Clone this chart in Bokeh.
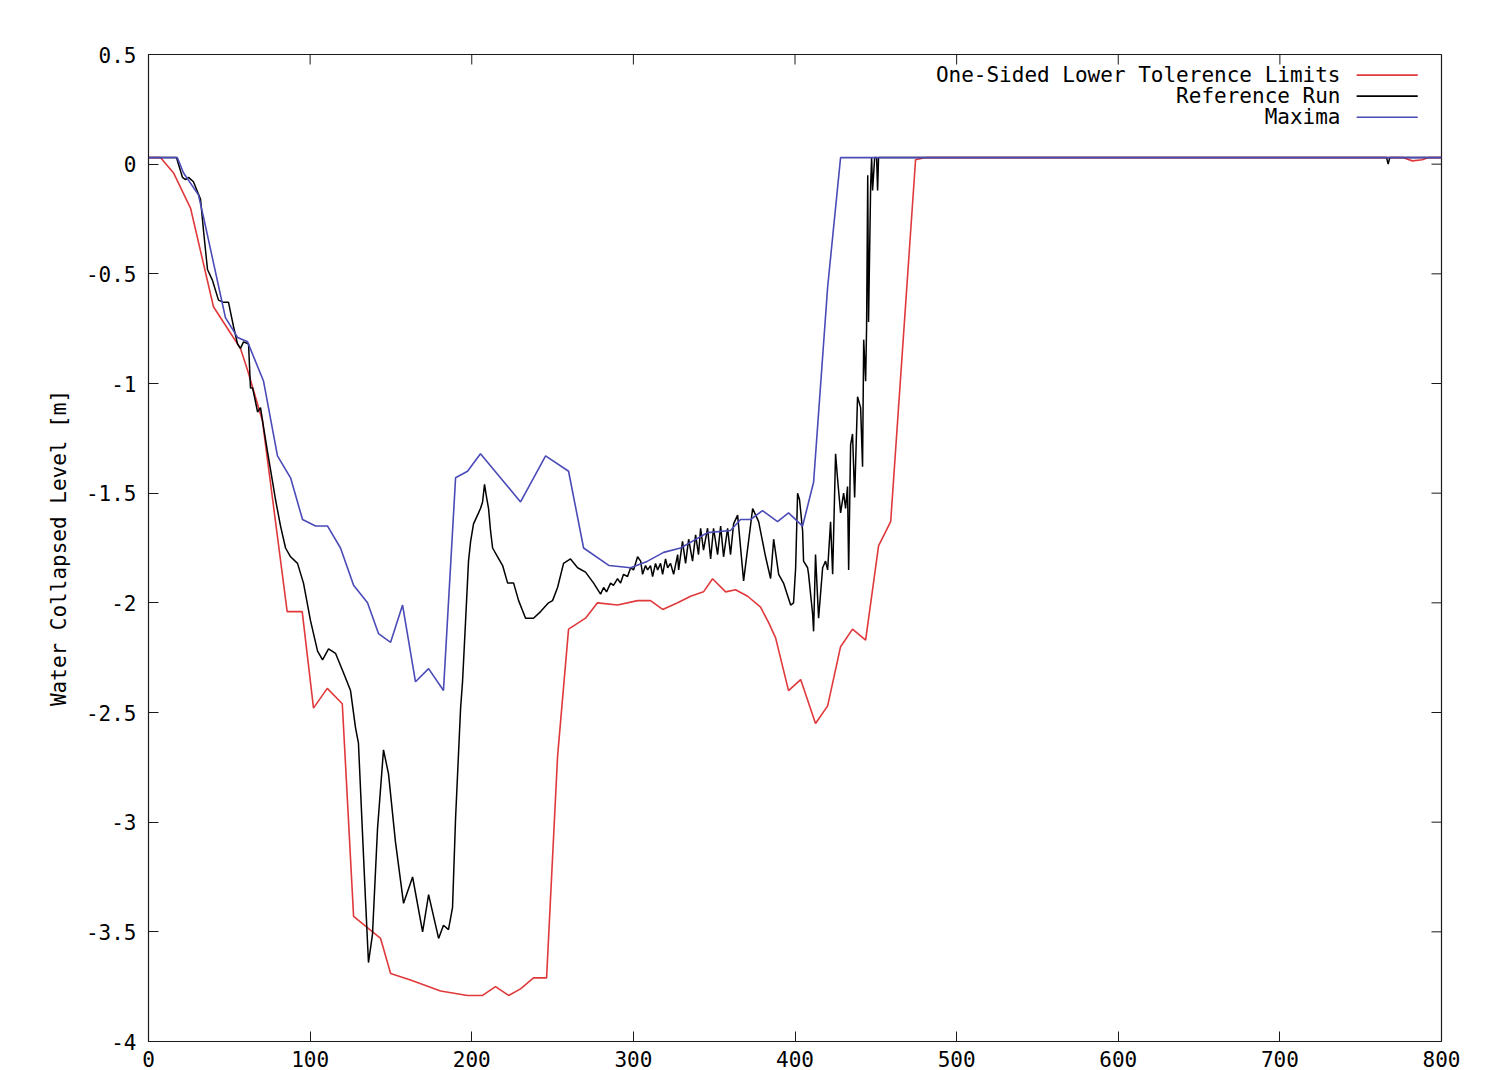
from bokeh.plotting import figure
from bokeh.models import Range1d, FixedTicker
from bokeh.core.properties import value
from bokeh.embed import file_html
from bokeh.resources import INLINE

# ---- series: time [s] vs. water collapsed level [m] ----
series_names = ["One-Sided Lower Tolerence Limits", "Reference Run", "Maxima"]

tol_t = [0, 7.4, 15.5, 26.0, 40.2, 50.7, 56.9, 61.3, 70.5, 85.8,
         95.1, 102.1, 110.6, 119.9, 126.9, 143.6, 149.8, 162.1, 180.7, 197.4,
         206.7, 214.7, 222.8, 230.2, 238.2, 246.3, 253.1, 259.9, 270.4, 277.8,
         290.2, 302.6, 310.6, 318.1, 327.4, 335.4, 343.4, 349.0, 357.1, 363.2,
         370.7, 378.7, 383.7, 388.0, 396.0, 403.5, 412.7, 420.2, 428.2, 435.6,
         443.7, 451.7, 459.2, 474.6, 480.8, 776.0, 782.0, 788.0, 792.0, 800.0]
tol_level = [0.03, 0.03, -0.04, -0.20, -0.65, -0.77, -0.84, -0.94, -1.17, -2.04,
             -2.04, -2.48, -2.39, -2.46, -3.43, -3.53, -3.69, -3.72, -3.77, -3.79,
             -3.79, -3.75, -3.79, -3.76, -3.71, -3.71, -2.70, -2.12, -2.07, -2.00,
             -2.01, -1.99, -1.99, -2.03, -2.00, -1.97, -1.95, -1.89, -1.95, -1.94,
             -1.97, -2.02, -2.09, -2.16, -2.40, -2.35, -2.55, -2.47, -2.20, -2.12,
             -2.17, -1.74, -1.63, 0.02, 0.03, 0.03, 0.015, 0.02, 0.03, 0.03]

ref_t = [0, 17.3, 21.0, 22.9, 24.8, 27.8, 32.2, 34.0, 36.5, 39.6,
         43.3, 46.4, 49.5, 52.6, 55.1, 56.9, 58.8, 61.9, 63.1, 64.4,
         67.5, 69.3, 71.2, 73.6, 78.6, 81.7, 84.8, 87.9, 92.2, 95.9,
         100.2, 104.6, 107.7, 111.4, 115.7, 120.7, 125.0, 128.1, 129.9, 132.4,
         134.3, 136.1, 138.6, 141.7, 145.4, 148.5, 152.8, 157.8, 163.4, 169.6,
         173.3, 179.5, 182.5, 185.6, 188.1, 190.0, 193.1, 194.3, 196.2, 198.0,
         199.3, 201.1, 204.2, 205.4, 206.7, 207.9, 209.2, 210.4, 211.6, 212.9,
         216.0, 219.1, 222.2, 225.9, 229.0, 233.3, 238.2, 242.6, 247.5, 250.0,
         253.1, 256.8, 261.1, 265.5, 270.4, 275.4, 279.7, 281.6, 283.4, 285.9,
         287.7, 290.2, 292.1, 293.9, 296.4, 298.3, 300.1, 302.6, 304.5, 305.7,
         307.5, 308.8, 310.6, 311.9, 313.7, 315.0, 316.8, 318.1, 319.9, 321.2,
         323.0, 324.9, 327.4, 328.0, 330.4, 332.3, 334.2, 336.6, 338.5, 340.3,
         341.6, 343.4, 345.9, 347.8, 349.6, 352.1, 354.0, 355.8, 358.3, 360.1,
         362.0, 364.5, 368.2, 373.8, 377.5, 381.8, 384.9, 386.8, 389.9, 392.9,
         397.3, 399.1, 400.4, 401.6, 402.8, 404.7, 405.3, 407.8, 408.4, 410.9,
         411.5, 412.7, 414.6, 417.1, 418.9, 420.2, 422.0, 423.3, 425.1, 426.4,
         428.2, 430.1, 431.3, 432.5, 433.2, 434.4, 435.6, 436.9, 438.7, 440.6,
         441.8, 442.5, 443.7, 444.3, 445.0, 445.5, 446.8, 447.4, 448.0, 449.3,
         450.5, 451.1, 451.7, 453.0, 766.0, 767.0, 768.0, 800.0]
ref_level = [0.03, 0.03, -0.06, -0.07, -0.06, -0.08, -0.16, -0.30, -0.48, -0.53,
             -0.62, -0.63, -0.63, -0.74, -0.82, -0.84, -0.81, -0.82, -1.02, -1.02,
             -1.13, -1.11, -1.20, -1.31, -1.53, -1.65, -1.75, -1.79, -1.82, -1.91,
             -2.08, -2.22, -2.26, -2.21, -2.23, -2.32, -2.40, -2.57, -2.64, -3.05,
             -3.36, -3.64, -3.51, -3.03, -2.67, -2.78, -3.09, -3.37, -3.25, -3.50,
             -3.33, -3.53, -3.47, -3.49, -3.39, -2.98, -2.48, -2.36, -2.08, -1.81,
             -1.72, -1.64, -1.59, -1.57, -1.54, -1.46, -1.52, -1.57, -1.67, -1.75,
             -1.79, -1.83, -1.91, -1.91, -1.99, -2.07, -2.07, -2.04, -2.00, -1.99,
             -1.93, -1.82, -1.80, -1.84, -1.86, -1.91, -1.96, -1.93, -1.95, -1.91,
             -1.92, -1.89, -1.91, -1.87, -1.88, -1.84, -1.85, -1.79, -1.81, -1.87,
             -1.83, -1.85, -1.83, -1.88, -1.82, -1.85, -1.82, -1.87, -1.80, -1.84,
             -1.82, -1.87, -1.78, -1.85, -1.72, -1.82, -1.71, -1.81, -1.69, -1.78,
             -1.66, -1.76, -1.66, -1.80, -1.66, -1.78, -1.65, -1.79, -1.66, -1.78,
             -1.64, -1.60, -1.90, -1.57, -1.63, -1.79, -1.89, -1.71, -1.87, -1.91,
             -2.01, -2.00, -1.84, -1.50, -1.53, -1.67, -1.81, -1.84, -1.87, -2.05,
             -2.13, -1.78, -2.07, -1.84, -1.81, -1.85, -1.63, -1.87, -1.32, -1.44,
             -1.59, -1.50, -1.57, -1.47, -1.85, -1.28, -1.23, -1.52, -1.06, -1.11,
             -1.38, -0.80, -0.99, -0.74, -0.05, -0.72, -0.10, 0.03, -0.12, 0.03,
             0.03, -0.12, 0.03, 0.03, 0.03, 0.00, 0.03, 0.03]

max_t = [0, 17.8, 21.7, 30.9, 34.0, 47.6, 55.1, 61.3, 71.2, 79.8,
         87.9, 95.3, 103.3, 110.8, 118.8, 126.9, 135.5, 142.3, 149.8, 157.2,
         165.2, 173.3, 182.5, 190.0, 197.4, 205.4, 230.2, 245.7, 259.9, 269.2,
         285.0, 298.3, 308.8, 318.7, 329.2, 345.9, 360.1, 366.3, 372.5, 379.9,
         389.2, 396.0, 404.7, 411.5, 420.2, 428.2, 800.0]
max_level = [0.03, 0.03, -0.04, -0.14, -0.24, -0.70, -0.79, -0.81, -0.99, -1.33,
             -1.43, -1.62, -1.65, -1.65, -1.75, -1.92, -2.00, -2.14, -2.18, -2.01,
             -2.36, -2.30, -2.40, -1.43, -1.40, -1.32, -1.54, -1.33, -1.40, -1.75,
             -1.83, -1.84, -1.81, -1.77, -1.75, -1.68, -1.67, -1.62, -1.62, -1.58,
             -1.63, -1.59, -1.65, -1.45, -0.56, 0.03, 0.03]

x_ticks = [0, 100, 200, 300, 400, 500, 600, 700, 800]
x_tick_labels = ["0", "100", "200", "300", "400", "500", "600", "700", "800"]
y_ticks = [-4, -3.5, -3, -2.5, -2, -1.5, -1, -0.5, 0, 0.5]
y_tick_labels = ["-4", "-3.5", "-3", "-2.5", "-2", "-1.5", "-1", "-0.5", "0", "0.5"]

# ---- styling ----
FONT = "DejaVu Sans Mono"
FONT_SIZE = "21px"
RED, BLACK, BLUE = "#e0393b", "#000000", "#4b4bb8"
AXIS_COLOR = "#1a1a1a"
TICK_LEN_PX = 10

X0, X1 = 0, 800
Y0, Y1 = -4, 0.5
PLOT_W, PLOT_H = 1496, 1070
BORDER_L, BORDER_R, BORDER_T, BORDER_B = 148, 55, 54, 29

p = figure(width=PLOT_W, height=PLOT_H,
           x_range=Range1d(X0, X1), y_range=Range1d(Y0, Y1),
           output_backend="svg", toolbar_location=None,
           min_border_left=BORDER_L, min_border_right=BORDER_R,
           min_border_top=BORDER_T, min_border_bottom=BORDER_B,
           background_fill_color="white", border_fill_color="white")
p.grid.visible = False
p.outline_line_color = AXIS_COLOR
p.outline_line_width = 1.2

p.line(tol_t, tol_level, line_color=RED, line_width=1.6)
p.line(ref_t, ref_level, line_color=BLACK, line_width=1.5)
p.line(max_t, max_level, line_color=BLUE, line_width=1.6)

# bottom / left axes with inward ticks
p.xaxis.ticker = FixedTicker(ticks=x_ticks)
p.xaxis.major_label_overrides = dict(zip(x_ticks, x_tick_labels))
p.yaxis.ticker = FixedTicker(ticks=y_ticks)
p.yaxis.major_label_overrides = dict(zip(y_ticks, y_tick_labels))

for ax in p.xaxis + p.yaxis:
    ax.major_tick_in = TICK_LEN_PX
    ax.major_tick_out = 0
    ax.minor_tick_line_color = None
    ax.axis_line_color = AXIS_COLOR
    ax.major_tick_line_color = AXIS_COLOR
    ax.major_label_text_font = FONT
    ax.major_label_text_font_size = FONT_SIZE
    ax.major_label_text_color = "black"

p.xaxis.major_label_standoff = 9
p.yaxis.major_label_standoff = 12
p.yaxis.axis_label = "Water Collapsed Level [m]"
p.yaxis.axis_label_text_font = FONT
p.yaxis.axis_label_text_font_size = FONT_SIZE
p.yaxis.axis_label_text_font_style = "normal"
p.yaxis.axis_label_text_color = "black"
p.yaxis.axis_label_standoff = 12

# mirrored tick marks along the top and right edges of the frame
frame_w = PLOT_W - BORDER_L - BORDER_R
frame_h = PLOT_H - BORDER_T - BORDER_B
tick_dy = TICK_LEN_PX * (Y1 - Y0) / frame_h
tick_dx = TICK_LEN_PX * (X1 - X0) / frame_w
top_ticks = x_ticks[1:-1]
right_ticks = y_ticks[1:-1]
p.segment(x0=top_ticks, x1=top_ticks,
          y0=[Y1] * len(top_ticks), y1=[Y1 - tick_dy] * len(top_ticks),
          line_color=AXIS_COLOR, line_width=1)
p.segment(x0=[X1] * len(right_ticks), x1=[X1 - tick_dx] * len(right_ticks),
          y0=right_ticks, y1=right_ticks,
          line_color=AXIS_COLOR, line_width=1)

# key in the upper right corner: right-aligned text followed by a line sample
key_text_x = 737.5
key_line_x0, key_line_x1 = 747.5, 785.3
key_rows_y = [0.406, 0.310, 0.214]
p.text(x=[key_text_x] * 3, y=key_rows_y, text=series_names,
       text_align="right", text_baseline="middle",
       text_font=value(FONT), text_font_size=FONT_SIZE, text_color="black")
p.segment(x0=[key_line_x0] * 3, x1=[key_line_x1] * 3, y0=key_rows_y, y1=key_rows_y,
          line_color=[RED, BLACK, BLUE], line_width=1.6)

open("out.html", "w").write(file_html(p, INLINE))
